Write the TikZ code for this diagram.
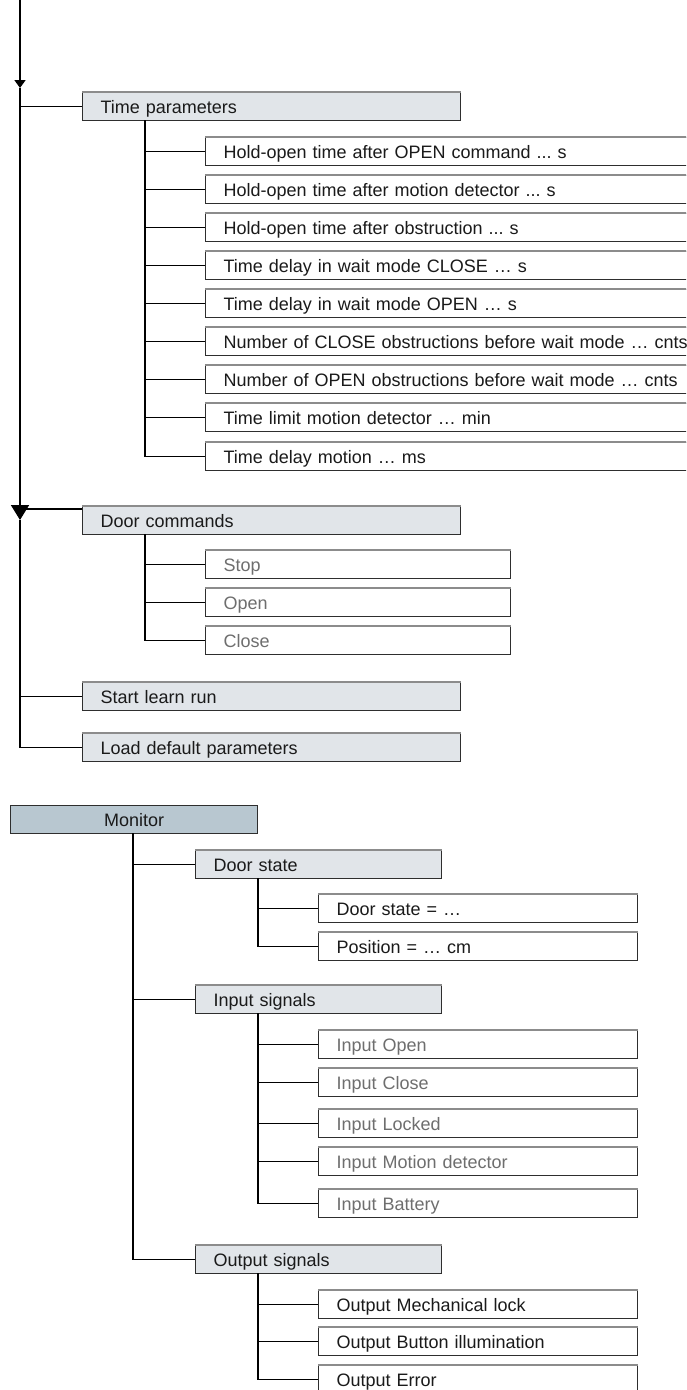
\documentclass[tikz,border=0pt]{standalone}
\usepackage{fontspec}
\setmainfont{Liberation Sans}
\usetikzlibrary{arrows.meta}
\definecolor{hdrfill}{HTML}{E1E5E9}
\definecolor{monfill}{HTML}{B8C7D0}
\definecolor{boxline}{HTML}{2E2E2E}
\definecolor{topline}{HTML}{8C8C8C}
\definecolor{txtgray}{HTML}{6E6E6E}
\definecolor{txtdark}{HTML}{1A1A1A}
\frenchspacing
\tikzset{
  box/.style={draw=boxline, line width=1.1pt, inner xsep=18pt, inner ysep=0pt,
    minimum height=28pt, anchor=north west, align=left,
    font=\fontsize{18}{22}\selectfont\frenchspacing, text height=12.9pt, text depth=0pt,
    text=txtdark},
  hdr/.style={box, fill=hdrfill},
  leaf/.style={box, fill=white},
  gleaf/.style={leaf, text=txtgray},
  mon/.style={box, fill=monfill, align=center},
  wire/.style={line width=1.8pt, draw=black},
  topedge/.style={draw=topline, line width=1.1pt},
}
\begin{document}
\begin{tikzpicture}[x=1pt,y=-1pt]
\useasboundingbox (0,0) rectangle (686,1390);
\clip (0,0) rectangle (686,1390);
\fill[white] (0,0) rectangle (686,1390);

% ---------- upper tree ----------
\coordinate (top) at (20,0);
\coordinate (a1) at (20,88);
\coordinate (a2) at (20,520);
\coordinate (dcj) at (20,509);

\node[hdr, text width=342pt] (tp) at (82,92) {Time parameters};
\coordinate (s1) at (145,120);
\node[leaf, text width=489pt] (t1) at (205,137) {Hold-open time after OPEN command ... s};
\node[leaf, text width=489pt] (t2) at (205,175) {Hold-open time after motion detector ... s};
\node[leaf, text width=489pt] (t3) at (205,213) {Hold-open time after obstruction ... s};
\node[leaf, text width=489pt] (t4) at (205,251) {Time delay in wait mode CLOSE … s};
\node[leaf, text width=489pt] (t5) at (205,289) {Time delay in wait mode OPEN … s};
\node[leaf, text width=489pt] (t6) at (205,327) {Number of CLOSE obstructions before wait mode … cnts};
\node[leaf, text width=489pt] (t7) at (205,365) {Number of OPEN obstructions before wait mode … cnts};
\node[leaf, text width=489pt] (t8) at (205,403) {Time limit motion detector … min};
\node[leaf, text width=489pt] (t9) at (205,442) {Time delay motion … ms};

\node[hdr, text width=342pt] (dc) at (82,506) {Door commands};
\coordinate (s2) at (145,534);
\node[gleaf, text width=269pt] (d1) at (205,550) {Stop};
\node[gleaf, text width=269pt] (d2) at (205,588) {Open};
\node[gleaf, text width=269pt] (d3) at (205,626) {Close};

\node[hdr, text width=342pt] (sl) at (82,682) {Start learn run};
\node[hdr, text width=342pt] (ld) at (82,733) {Load default parameters};

% main spine with arrows
\draw[wire, -{Triangle[width=11pt,length=8pt]}] (top) -- (a1);
\draw[wire, -{Triangle[width=18pt,length=15pt]}] (a1) -- (a2);
\draw[wire] (a2) |- (ld.west);
\draw[wire] (a1 |- tp.west) -- (tp.west);
\draw[wire] (dcj) -- (dcj -| dc.west);
\draw[wire] (a1 |- sl.west) -- (sl.west);

% time parameter branches
\draw[wire] (s1) |- (t9.west);
\foreach \n in {t1,t2,t3,t4,t5,t6,t7,t8}
  \draw[wire] (s1 |- \n.west) -- (\n.west);

% door command branches
\draw[wire] (s2) |- (d3.west);
\foreach \n in {d1,d2}
  \draw[wire] (s2 |- \n.west) -- (\n.west);

% ---------- Monitor tree ----------
\node[mon, text width=211pt] (mo) at (10,805) {Monitor};
\coordinate (s3) at (133,833);

\node[hdr, text width=210pt] (ds) at (195,850) {Door state};
\coordinate (s4) at (258,878);
\node[leaf, text width=283pt] (e1) at (318,894) {Door state = …};
\node[leaf, text width=283pt] (e2) at (318,932) {Position = … cm};

\node[hdr, text width=210pt] (is) at (195,985) {Input signals};
\coordinate (s5) at (258,1013);
\node[gleaf, text width=283pt] (i1) at (318,1030) {Input Open};
\node[gleaf, text width=283pt] (i2) at (318,1068) {Input Close};
\node[gleaf, text width=283pt] (i3) at (318,1109) {Input Locked};
\node[gleaf, text width=283pt] (i4) at (318,1147) {Input Motion detector};
\node[gleaf, text width=283pt] (i5) at (318,1189) {Input Battery};

\node[hdr, text width=210pt] (os) at (195,1245) {Output signals};
\coordinate (s6) at (258,1273);
\node[leaf, text width=283pt] (o1) at (318,1290) {Output Mechanical lock};
\node[leaf, text width=283pt] (o2) at (318,1327) {Output Button illumination};
\node[leaf, text width=283pt] (o3) at (318,1365) {Output Error};

\draw[wire] (s3) |- (os.west);
\foreach \n in {ds,is}
  \draw[wire] (s3 |- \n.west) -- (\n.west);

\draw[wire] (s4) |- (e2.west);
\draw[wire] (s4 |- e1.west) -- (e1.west);

\draw[wire] (s5) |- (i5.west);
\foreach \n in {i1,i2,i3,i4}
  \draw[wire] (s5 |- \n.west) -- (\n.west);

\draw[wire] (s6) |- (o3.west);
\foreach \n in {o1,o2}
  \draw[wire] (s6 |- \n.west) -- (\n.west);

% lighter top edges of the boxes
\foreach \n in {tp,t1,t2,t3,t4,t5,t6,t7,t8,t9,dc,d1,d2,d3,sl,ld,ds,e1,e2,is,i1,i2,i3,i4,i5,os,o1,o2,o3}
  \draw[topedge] (\n.north west) -- (\n.north east);
\end{tikzpicture}
\end{document}
